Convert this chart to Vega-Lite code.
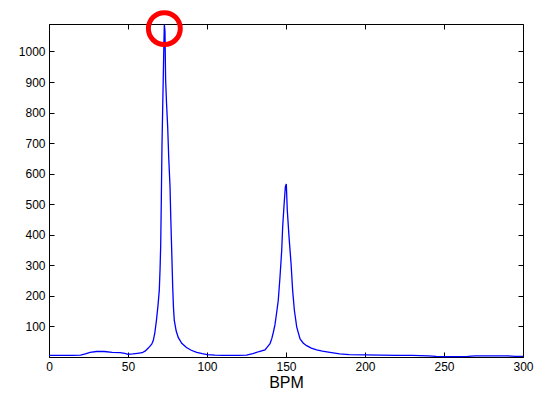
{
  "$schema": "https://vega.github.io/schema/vega-lite/v6.json",
  "autosize": "none",
  "width": 474,
  "height": 333,
  "padding": {"left": 49, "top": 24, "right": 14, "bottom": 37},
  "background": "white",
  "config": {
    "view": {"stroke": "black", "strokeWidth": 1},
    "axis": {"grid": false, "domainColor": "black", "tickColor": "black", "labelColor": "black", "labelFont": "Liberation Sans", "labelFontSize": 12, "titleFont": "Liberation Sans", "titleColor": "black", "titleFontWeight": "normal", "tickSize": -5, "labelPadding": 9, "format": "d"}
  },
  "datasets": {
    "spectrum": [
      {"bpm": 0, "amp": 5}, {"bpm": 5, "amp": 5}, {"bpm": 10, "amp": 5}, {"bpm": 15, "amp": 5}, {"bpm": 20, "amp": 6},
      {"bpm": 23, "amp": 10}, {"bpm": 26, "amp": 15}, {"bpm": 30, "amp": 18}, {"bpm": 35, "amp": 18}, {"bpm": 40, "amp": 15},
      {"bpm": 45, "amp": 14}, {"bpm": 48, "amp": 12}, {"bpm": 50, "amp": 9}, {"bpm": 53, "amp": 10}, {"bpm": 56, "amp": 12},
      {"bpm": 59, "amp": 14}, {"bpm": 61, "amp": 20}, {"bpm": 63, "amp": 30}, {"bpm": 65, "amp": 42}, {"bpm": 66, "amp": 54},
      {"bpm": 67, "amp": 80}, {"bpm": 68, "amp": 120}, {"bpm": 69, "amp": 170}, {"bpm": 69.8, "amp": 218}, {"bpm": 70.3, "amp": 290},
      {"bpm": 70.7, "amp": 366}, {"bpm": 71.1, "amp": 520}, {"bpm": 71.5, "amp": 689}, {"bpm": 71.9, "amp": 800}, {"bpm": 72.3, "amp": 908},
      {"bpm": 72.7, "amp": 1020}, {"bpm": 73.0, "amp": 1088}, {"bpm": 73.4, "amp": 1067}, {"bpm": 73.8, "amp": 908}, {"bpm": 74.4, "amp": 830},
      {"bpm": 75.1, "amp": 755}, {"bpm": 75.8, "amp": 650}, {"bpm": 76.6, "amp": 557}, {"bpm": 77.1, "amp": 450}, {"bpm": 77.6, "amp": 360},
      {"bpm": 78.3, "amp": 228}, {"bpm": 78.8, "amp": 160}, {"bpm": 79.3, "amp": 120}, {"bpm": 80.5, "amp": 85}, {"bpm": 81.8, "amp": 64},
      {"bpm": 84, "amp": 45}, {"bpm": 87, "amp": 31}, {"bpm": 90, "amp": 22}, {"bpm": 93.5, "amp": 15}, {"bpm": 97, "amp": 11},
      {"bpm": 100, "amp": 8}, {"bpm": 105, "amp": 6}, {"bpm": 110, "amp": 5}, {"bpm": 115, "amp": 5}, {"bpm": 120, "amp": 5},
      {"bpm": 125, "amp": 6}, {"bpm": 129, "amp": 11}, {"bpm": 133, "amp": 18}, {"bpm": 136.7, "amp": 23}, {"bpm": 138.5, "amp": 35},
      {"bpm": 139.9, "amp": 44}, {"bpm": 141, "amp": 60}, {"bpm": 142, "amp": 81}, {"bpm": 143, "amp": 105}, {"bpm": 143.7, "amp": 131},
      {"bpm": 145.1, "amp": 185}, {"bpm": 146.2, "amp": 262}, {"bpm": 147.3, "amp": 350}, {"bpm": 147.9, "amp": 427}, {"bpm": 148.7, "amp": 492},
      {"bpm": 149.6, "amp": 558}, {"bpm": 150.2, "amp": 566}, {"bpm": 150.8, "amp": 482}, {"bpm": 151.9, "amp": 394}, {"bpm": 153.2, "amp": 306},
      {"bpm": 154.2, "amp": 218}, {"bpm": 155.3, "amp": 153}, {"bpm": 156.8, "amp": 98}, {"bpm": 158.9, "amp": 59}, {"bpm": 161, "amp": 45},
      {"bpm": 163.1, "amp": 37}, {"bpm": 166, "amp": 29}, {"bpm": 169.4, "amp": 23}, {"bpm": 173, "amp": 19}, {"bpm": 177.8, "amp": 15},
      {"bpm": 184, "amp": 10}, {"bpm": 190, "amp": 8}, {"bpm": 200, "amp": 7}, {"bpm": 210, "amp": 6}, {"bpm": 220, "amp": 5},
      {"bpm": 230, "amp": 5}, {"bpm": 240, "amp": 4}, {"bpm": 245, "amp": 2}, {"bpm": 250, "amp": 1}, {"bpm": 260, "amp": 1},
      {"bpm": 265, "amp": 2}, {"bpm": 270, "amp": 4}, {"bpm": 280, "amp": 4}, {"bpm": 290, "amp": 4}, {"bpm": 295, "amp": 2},
      {"bpm": 300, "amp": 2}
    ],
    "marker": [{"bpm": 73, "amp": 1075}]
  },
  "layer": [
    {
      "data": {"name": "spectrum"},
      "mark": {"type": "line", "color": "#0000FF", "strokeWidth": 1.3, "interpolate": "linear"},
      "encoding": {
        "x": {"field": "bpm", "type": "quantitative", "scale": {"domain": [0, 300], "nice": false},
          "axis": {"values": [0, 50, 100, 150, 200, 250, 300], "title": "BPM", "titleFontSize": 16, "titlePadding": 2, "labelFlush": false}},
        "y": {"field": "amp", "type": "quantitative", "scale": {"domain": [0, 1090], "nice": false},
          "axis": {"values": [100, 200, 300, 400, 500, 600, 700, 800, 900, 1000], "title": null}}
      }
    },
    {
      "data": {"name": "marker"},
      "mark": {"type": "point", "shape": "circle", "filled": false, "color": "#FF0000", "opacity": 1, "strokeOpacity": 1, "strokeWidth": 5, "size": 1018, "clip": false},
      "encoding": {
        "x": {"field": "bpm", "type": "quantitative", "axis": {"orient": "top", "values": [0, 50, 100, 150, 200, 250, 300], "labels": false, "title": null, "domain": false}},
        "y": {"field": "amp", "type": "quantitative", "axis": {"orient": "right", "values": [100, 200, 300, 400, 500, 600, 700, 800, 900, 1000], "labels": false, "title": null, "domain": false}}
      }
    }
  ],
  "resolve": {"axis": {"x": "independent", "y": "independent"}}
}
